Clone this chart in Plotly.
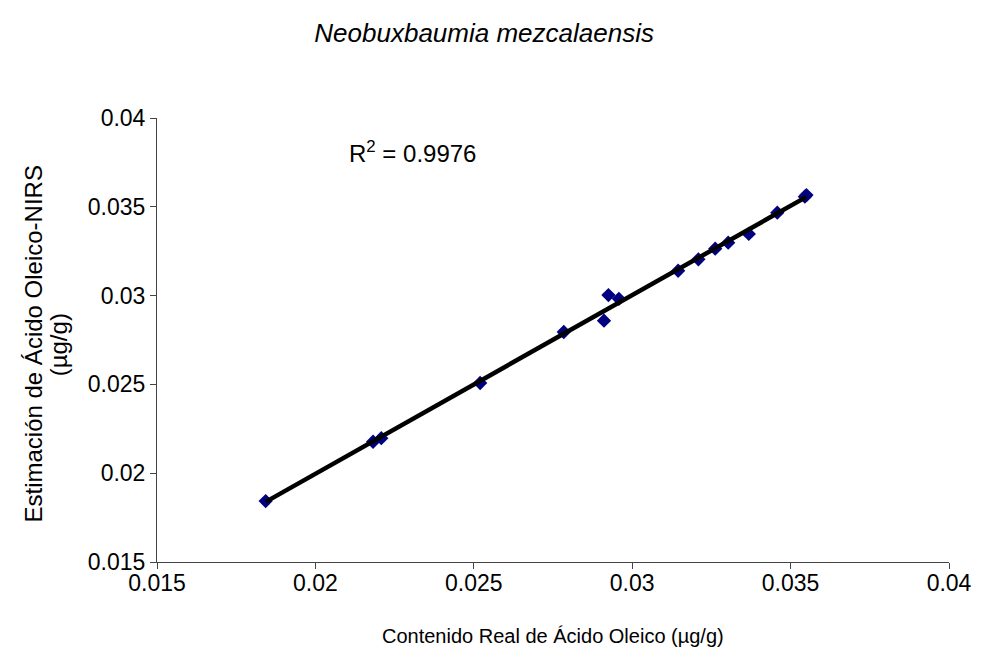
import numpy as np
import plotly.graph_objects as go

# Real oleic acid content (x) vs. NIRS estimate (y), µg/g
real_oleico = [0.01843, 0.02182, 0.02208, 0.02520, 0.02784, 0.02911, 0.02925,
               0.02958, 0.03145, 0.03209, 0.03262, 0.03303, 0.03368, 0.03458,
               0.03545, 0.03550]
nirs_oleico = [0.01843, 0.02177, 0.02197, 0.02508, 0.02795, 0.02859, 0.03003,
               0.02982, 0.03140, 0.03204, 0.03264, 0.03298, 0.03347, 0.03467,
               0.03557, 0.03566]

x_ticks = [0.015, 0.02, 0.025, 0.03, 0.035, 0.04]
y_ticks = [0.015, 0.02, 0.025, 0.03, 0.035, 0.04]
x_tick_text = ["0.015", "0.02", "0.025", "0.03", "0.035", "0.04"]
y_tick_text = ["0.015", "0.02", "0.025", "0.03", "0.035", "0.04"]

r2_text = "R<sup>2</sup> = 0.9976"
title_text = "<i>Neobuxbaumia mezcalaensis</i>"
x_title = "Contenido Real de Ácido Oleico (µg/g)"
y_title_lines = ["Estimación de Ácido Oleico-NIRS", "(µg/g)"]

# Linear trend line fitted to the points, spanning the data range
xa = np.array(real_oleico)
ya = np.array(nirs_oleico)
slope, intercept = np.polyfit(xa, ya, 1)
x_fit = np.array([xa.min(), xa.max()])
y_fit = slope * x_fit + intercept

FONT = "Liberation Sans, Arial, sans-serif"
PLOT_L, PLOT_W = 157, 799

fig = go.Figure()
fig.add_trace(go.Scatter(
    x=real_oleico, y=nirs_oleico, mode="markers",
    marker=dict(symbol="diamond", size=11, color="#000080",
                line=dict(width=0)),
    showlegend=False,
))
fig.add_trace(go.Scatter(
    x=x_fit, y=y_fit, mode="lines",
    line=dict(color="black", width=4.5),
    showlegend=False,
))

axis_style = dict(showgrid=False, zeroline=False, showline=True,
                  linecolor="#444444", linewidth=1, ticks="outside",
                  ticklen=6, tickcolor="#444444", mirror=False,
                  tickfont=dict(size=23, family=FONT, color="black"))

# Two-line rotated y-axis title, placed line by line
y_title_annots = [
    dict(text=line, x=(cx - PLOT_L) / PLOT_W, y=0.49, xref="paper",
         yref="paper", xanchor="center", yanchor="middle", textangle=-90,
         showarrow=False, font=dict(size=24, family=FONT))
    for line, cx in zip(y_title_lines, [32, 58])
]

fig.update_layout(
    width=984, height=664,
    margin=dict(l=PLOT_L, r=28, t=118, b=102),
    paper_bgcolor="white", plot_bgcolor="white",
    font=dict(family=FONT, size=20, color="black"),
    title=dict(text=title_text, x=0.492, xanchor="center",
               y=1 - 33 / 664, yanchor="middle", yref="container",
               font=dict(size=26, family=FONT, color="black")),
    xaxis=dict(range=[0.015, 0.04], tickvals=x_ticks, ticktext=x_tick_text,
               ticklabelstandoff=-6, **axis_style),
    yaxis=dict(range=[0.015, 0.04], tickvals=y_ticks, ticktext=y_tick_text,
               **axis_style),
    annotations=[
        dict(text=r2_text, x=0.0210, y=0.03809, xref="x", yref="y",
             xanchor="left", yanchor="middle", showarrow=False,
             font=dict(size=24, family=FONT)),
        dict(text=x_title, x=0.5, y=(562 - 636) / 444, xref="paper",
             yref="paper", xanchor="center", yanchor="middle",
             showarrow=False, font=dict(size=20, family=FONT)),
    ] + y_title_annots,
)

fig.write_html("out.html")
